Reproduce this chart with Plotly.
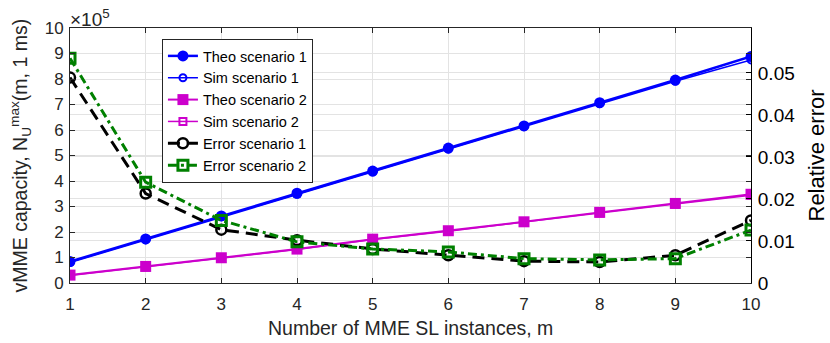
import plotly.graph_objects as go

m = [1, 2, 3, 4, 5, 6, 7, 8, 9, 10]
# capacity values (units of 1e5)
theo1 = [0.84, 1.73, 2.63, 3.52, 4.39, 5.29, 6.16, 7.07, 7.96, 8.88]
sim1 = [0.80, 1.69, 2.60, 3.48, 4.35, 5.25, 6.13, 7.03, 7.91, 8.75]
theo2 = [0.31, 0.65, 0.99, 1.33, 1.72, 2.05, 2.40, 2.77, 3.12, 3.48]
sim2 = [0.29, 0.63, 0.98, 1.31, 1.71, 2.03, 2.39, 2.75, 3.10, 3.44]
err1 = [0.0489, 0.0213, 0.0127, 0.0102, 0.0081, 0.0066, 0.0052, 0.0050, 0.0066, 0.0149]
err2 = [0.0535, 0.0240, 0.0149, 0.0098, 0.0081, 0.0074, 0.0058, 0.0055, 0.0058, 0.0126]
left_ticks = [0, 1, 2, 3, 4, 5, 6, 7, 8, 9, 10]
right_ticks = [0, 0.01, 0.02, 0.03, 0.04, 0.05]
right_labels = ["0", "0.01", "0.02", "0.03", "0.04", "0.05"]

FONT = "Liberation Sans, Arial, sans-serif"
AX = "#262626"
GRID = "#e3e3e3"

fig = go.Figure()
fig.add_trace(go.Scatter(x=m, y=theo1, name="Theo scenario 1", mode="lines+markers",
                         line=dict(color="#0000ff", width=2.5),
                         marker=dict(symbol="circle", size=11, color="#0000ff")))
fig.add_trace(go.Scatter(x=m, y=sim1, name="Sim scenario 1", mode="lines+markers",
                         line=dict(color="#0000ff", width=1.5),
                         marker=dict(symbol="circle-open", size=7, color="#0000ff", line=dict(width=2))))
fig.add_trace(go.Scatter(x=m, y=theo2, name="Theo scenario 2", mode="lines+markers",
                         line=dict(color="#cc00cc", width=2),
                         marker=dict(symbol="square", size=11, color="#cc00cc")))
fig.add_trace(go.Scatter(x=m, y=sim2, name="Sim scenario 2", mode="lines+markers",
                         line=dict(color="#cc00cc", width=1.5),
                         marker=dict(symbol="square-open", size=7, color="#cc00cc", line=dict(width=2))))
fig.add_trace(go.Scatter(x=m, y=err1, name="Error scenario 1", mode="lines+markers", yaxis="y2",
                         line=dict(color="#000000", width=3, dash="12px,7px"),
                         marker=dict(symbol="circle-open", size=10, color="#000000", line=dict(width=2.5))))
fig.add_trace(go.Scatter(x=m, y=err2, name="Error scenario 2", mode="lines+markers", yaxis="y2",
                         line=dict(color="#008000", width=3, dash="9px,4px,3px,4px"),
                         marker=dict(symbol="square-open", size=10, color="#008000", line=dict(width=3))))

fig.update_layout(
    width=830, height=343,
    margin=dict(l=70, r=78.5, t=28, b=59.5, autoexpand=False),
    paper_bgcolor="white", plot_bgcolor="white",
    font=dict(family=FONT, size=17, color=AX),
    showlegend=True,
    legend=dict(x=0.135, y=0.957, xanchor="left", yanchor="top",
                bgcolor="white", bordercolor=AX, borderwidth=1,
                font=dict(family=FONT, size=14.5, color="#000000"),
                tracegroupgap=0, itemwidth=30),
    xaxis=dict(range=[1, 10], tickvals=m, ticks="inside", ticklen=5, tickcolor=AX,
               showline=True, linecolor=AX, linewidth=1, mirror="ticks",
               showgrid=True, gridcolor=GRID, zeroline=False, automargin=False,
               ticklabelstandoff=6, tickfont=dict(size=17, color=AX)),
    yaxis=dict(range=[0, 10], tickvals=left_ticks, ticks="inside", ticklen=5, tickcolor=AX,
               showline=True, linecolor=AX, linewidth=1, mirror="ticks",
               showgrid=True, gridcolor=GRID, zeroline=False, automargin=False,
               ticklabelstandoff=2, tickfont=dict(size=17, color=AX)),
    yaxis2=dict(range=[0, 0.0607], overlaying="y", side="right", tickvals=right_ticks,
                ticktext=right_labels, ticks="inside", ticklen=5, tickcolor="#000000",
                showline=True, linecolor="#000000", linewidth=1, automargin=False,
                showgrid=True, gridcolor=GRID, zeroline=False,
                ticklabelstandoff=2, tickfont=dict(size=19, color="#000000")),
)
# axis titles
fig.add_annotation(text="Number of MME SL instances, m", xref="paper", yref="paper",
                   x=0.5, y=0, xanchor="center", yanchor="middle", yshift=-45, showarrow=False,
                   font=dict(family=FONT, size=19.5, color=AX))
fig.add_annotation(text="vMME capacity, N<sub>U</sub><sup>max</sup>(m, 1 ms)", xref="paper", yref="paper",
                   x=0, y=0.5, xanchor="center", yanchor="middle", xshift=-50, textangle=-90,
                   showarrow=False, font=dict(family=FONT, size=19.5, color=AX))
fig.add_annotation(text="Relative error", xref="paper", yref="paper",
                   x=1, y=0.5, xanchor="center", yanchor="middle", xshift=65, textangle=-90,
                   showarrow=False, font=dict(family=FONT, size=22, color="#000000"))
fig.add_annotation(text="×10<sup>5</sup>", xref="paper", yref="paper", x=0.0, y=1.0,
                   xanchor="left", yanchor="bottom", showarrow=False,
                   font=dict(family=FONT, size=19, color=AX), xshift=-2, yshift=-4)

# remove the default 8px page margin so the figure fills the 830x343 window
fig.write_html("out.html", config={"displayModeBar": False},
               post_script="document.body.style.margin='0';")
